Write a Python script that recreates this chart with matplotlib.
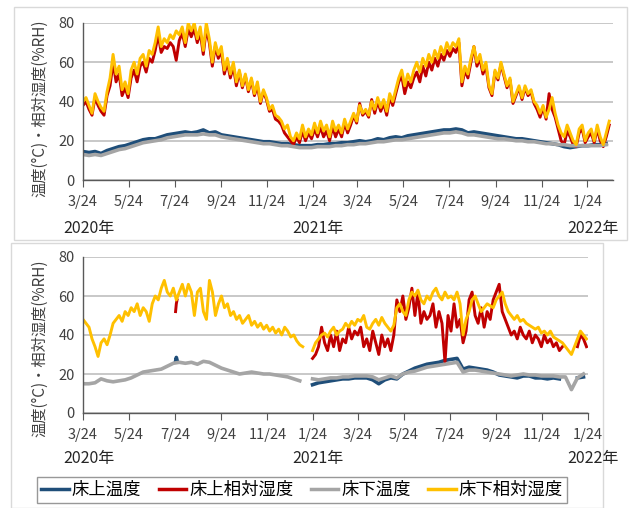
import numpy as np
import pandas as pd
import matplotlib
matplotlib.use('Agg')
import matplotlib.pyplot as plt
from matplotlib.patches import Rectangle
from matplotlib.lines import Line2D

plt.rcParams['font.family'] = ['Noto Sans CJK JP', 'DejaVu Sans']

nan = np.nan

# ---- data ----
start = pd.Timestamp('2020-03-24')

# top panel, relative humidity every 4 days from 2020-03-24
top_rh_under = [
    40, 42, 38, 34, 44, 40, 37, 35, 45, 52,
    64, 54, 58, 46, 50, 44, 56, 60, 54, 62,
    64, 58, 66, 64, 70, 78, 68, 72, 70, 74,
    72, 76, 74, 78, 70, 80, 76, 80, 72, 78,
    66, 80, 72, 60, 70, 64, 68, 56, 62, 54,
    60, 50, 56, 48, 54, 46, 52, 44, 50, 40,
    46, 42, 36, 38, 33, 32, 30, 26, 28, 22,
    20, 24, 21, 28, 22, 26, 23, 29, 24, 30,
    25, 28, 22, 30, 25, 28, 24, 31, 26, 30,
    34, 30, 38, 34, 36, 33, 40, 36, 42, 37,
    41, 35, 44, 40, 46, 52, 56, 48, 54, 50,
    56, 60, 55, 62, 58, 64, 60, 66, 62, 68,
    64, 70, 66, 70, 68, 72, 50, 58, 54, 62,
    68, 60, 64, 56, 60, 48, 44, 56, 52, 60,
    54, 48, 52, 40, 44, 48, 42, 48, 44, 46,
    40, 38, 34, 38, 32, 36, 42, 34, 28, 24,
    22, 28, 24, 20, 18, 26, 28, 20, 24, 26,
    20, 28, 22, 18, 24, 30,
]
top_rh_upper = [
    38, 40, 36, 33, 42, 38, 35, 33, 43, 48,
    60, 50, 54, 43, 47, 42, 52, 56, 50, 58,
    60, 55, 62, 60, 66, 74, 65, 68, 67, 70,
    68, 61, 71, 75, 68, 77, 73, 77, 70, 75,
    64, 77, 70, 58, 68, 62, 66, 54, 60, 52,
    58, 48, 55, 47, 53, 45, 51, 43, 48, 39,
    45, 41, 35, 36, 31, 30, 28, 24, 22, 20,
    18, 22, 19, 25, 20, 24, 21, 26, 22, 27,
    22, 25, 20, 27, 22, 26, 22, 29, 24, 28,
    33, 29, 39, 33, 35, 32, 41, 34, 40, 35,
    39, 33, 42, 38, 44, 50, 53, 44, 50, 47,
    52, 55, 50, 58, 53, 60, 56, 62, 58, 64,
    61, 66, 63, 67, 65, 70, 48, 56, 52, 60,
    68, 58, 62, 54, 58, 47, 43, 55, 51, 59,
    53, 47, 51, 39, 43, 47, 41, 47, 43, 45,
    39, 36, 32, 37, 31, 44, 36, 32, 26, 20,
    18, 25, 22, 18, 17, 24, 26, 19, 22, 24,
    19, 26, 20, 17, 22, 28,
]
# top panel, temperature every 8 days
top_t_upper = [
    14.5, 14, 14.5, 13.5, 15, 16, 17, 17.5, 18.5, 19.5,
    20.5, 21, 21, 22, 23, 23.5, 24, 24.5, 24, 24.5,
    25.5, 24, 24.5, 23, 22.5, 22, 21.5, 21, 20.5, 20,
    19.5, 19.5, 19, 18.5, 18.5, 18, 17.5, 17.5, 17.5, 18,
    18, 18.5, 18.5, 19, 19, 19.5, 20, 19.5, 20, 21,
    20.5, 21.5, 22, 21.5, 22.5, 23, 23.5, 24, 24.5, 25,
    25.5, 25.5, 26, 25.5, 24, 24.5, 24, 23.5, 23, 22.5,
    22, 21.5, 21, 21, 20.5, 20, 19.5, 19, 18.5, 18,
    17, 16.5, 17, 17.5, 17.5, 18, 18, 18.5,
]
top_t_under = [
    13, 12.5, 13, 12.5, 13.5, 14.5, 15.5, 16, 17, 18,
    19, 19.5, 20, 20.5, 21.5, 22, 22.5, 23, 23, 23,
    23.5, 23, 23, 22, 21.5, 21, 20.5, 20, 19.5, 19,
    18.5, 18.5, 18, 17.5, 17.5, 17, 16.5, 16.5, 16.5, 17,
    17, 17, 17.5, 17.5, 18, 18, 18.5, 18.5, 19, 19.5,
    19.5, 20, 20.5, 20.5, 21, 21.5, 22, 22.5, 23, 23.5,
    24, 24, 24.5, 24, 23, 23, 22.5, 22, 21.5, 21,
    21, 20.5, 20, 20, 19.5, 19.5, 19, 18.5, 18.5, 18,
    18, 17.5, 17.5, 17.5, 17.5, 17.5, 17.5, 18,
]

# bottom panel, first period (2020-03-24 ~ 2021-01), RH every 4 days / temp every 8 days
bot1_rh_under = [
    48, 46, 44, 38, 34, 29, 36, 38, 35, 40,
    46, 48, 50, 47, 52, 50, 54, 52, 56, 50,
    54, 52, 47, 56, 60, 58, 64, 68, 62, 60,
    64, 58, 62, 66, 60, 66, 62, 50, 62, 64,
    52, 48, 68, 62, 50, 56, 60, 54, 56, 50,
    52, 48, 50, 46, 48, 50, 45, 47, 44, 46,
    43, 45, 42, 44, 41, 43, 40, 44, 42, 39,
    40, 37, 35, 34,
]
bot1_t_under = [
    15, 15, 15.5, 17.5, 16.5, 16, 16.5, 17, 18, 19.5,
    21, 21.5, 22, 22.5, 24, 25.5, 26, 25.5, 26, 25,
    26.5, 26, 24.5, 23, 22, 21, 20, 20.5, 21, 20.5,
    20, 20, 19.5, 19, 18.5, 17.5, 16.5,
]
bot1_rh_upper = [52, 56, 58]
bot1_t_upper = [26.5, 28.5, 27]

# bottom panel, second period (2021-01-23 ~ 2022-01-24)
bot2_rh_under = [
    32, 36, 38, 40, 41, 39, 42, 44, 40, 42,
    43, 46, 44, 47, 45, 48, 47, 50, 44, 43,
    46, 48, 45, 49, 46, 44, 42, 45, 54, 56,
    52, 50, 58, 62, 60, 63, 58, 56, 60, 58,
    62, 64, 60, 58, 62, 59, 60, 58, 62, 56,
    40, 48, 52, 58, 60, 56, 52, 54, 56, 55,
    54, 58, 60, 62, 56, 52, 50, 48, 50, 47,
    48, 46, 45, 44, 43, 44, 41, 42, 40, 42,
    39, 38, 37, 36, 34, 32, 30, 34, 38, 42,
    40, 38,
]
bot2_rh_upper = [
    28, 30, 34, 44, 36, 32, 40, 34, 42, 32,
    38, 36, 44, 38, 42, 40, 44, 34, 38, 32,
    42, 36, 30, 40, 34, 38, 32, 40, 58, 52,
    60, 48, 54, 64, 50, 62, 46, 52, 48, 50,
    56, 44, 52, 46, 26, 50, 42, 56, 44, 48,
    36, 42, 58, 62, 50, 46, 54, 44, 52, 48,
    58, 62, 66, 52, 48, 44, 40, 42, 38, 44,
    40, 38, 42, 36, 40, 38, 34, 40, 36, 38,
    34, 36, 32, 34, nan, nan, nan, nan, 34, 40,
    38, 34,
]
bot2_t_under = [
    17.5, 17, 17.5, 18, 18, 18.5, 18.5, 19, 19, 19,
    18.5, 17, 18, 19, 18, 20, 21, 21.5, 22.5, 23.5,
    24, 24.5, 25, 25.5, 26, 21, 22, 22, 21.5, 21,
    20.5, 20, 19.5, 19, 19.5, 20, 19.5, 19.5, 19, 19,
    19, 18.5, 18.5, 12, 18, 20,
]
bot2_t_upper = [
    14.5, 15.5, 16, 16.5, 17, 17.5, 17.5, 18, 18, 18,
    17, 15, 17, 18, 17.5, 20, 21.5, 23, 24, 25,
    25.5, 26, 27, 27.5, 28, 22.5, 23.5, 23, 22.5, 22,
    21, 19.5, 19, 18.5, 18, 19, 19, 18, 18, 17.5,
    18, 17.5, nan, nan, 18, 18.5,
]

tick_dates = pd.to_datetime(['2020-03-24', '2020-05-24', '2020-07-24', '2020-09-24',
                             '2020-11-24', '2021-01-24', '2021-03-24', '2021-05-24',
                             '2021-07-24', '2021-09-24', '2021-11-24', '2022-01-24'])
tick_labels = ['3/24', '5/24', '7/24', '9/24', '11/24', '1/24',
               '3/24', '5/24', '7/24', '9/24', '11/24', '1/24']
year_labels = ['2020年', '2021年', '2022年']
series_names = ['床上温度', '床上相対湿度', '床下温度', '床下相対湿度']
colors = ['#1f4e79', '#c00000', '#a5a5a5', '#ffc000']
ylabel = '温度(°C)・相対湿度(%RH)'

# ---- figure ----
W, H = 637, 508
fig = plt.figure(figsize=(W / 100, H / 100), dpi=100)

LW_T = 2.6
LW_RH = 2.1


def px_axes(left, top, right, bottom):
    return fig.add_axes([left / W, 1 - bottom / H, (right - left) / W, (bottom - top) / H])


def style_axes(ax, xmax):
    ax.set_xlim(start, pd.Timestamp(xmax))
    ax.set_ylim(0, 80)
    ax.set_yticks([0, 20, 40, 60, 80])
    ax.set_xticks(tick_dates)
    ax.set_xticklabels(tick_labels)
    ax.grid(axis='y', color='#bfbfbf', linewidth=1.2)
    ax.set_axisbelow(True)
    for s in ['top', 'right']:
        ax.spines[s].set_visible(False)
    for s in ['left', 'bottom']:
        ax.spines[s].set_color('#595959')
        ax.spines[s].set_linewidth(1.0)
    ax.tick_params(axis='x', direction='out', length=5, color='#595959',
                   labelsize=10.5, labelcolor='#404040', pad=6)
    ax.tick_params(axis='y', length=0, labelsize=10.5, labelcolor='#404040', pad=6)


def d(first, arr, step):
    return pd.date_range(pd.Timestamp(first), periods=len(arr), freq=f'{step}D')


# panel frames
fig.add_artist(Rectangle((14 / W, 1 - 240 / H), 613 / W, 233 / H, transform=fig.transFigure,
                         fill=False, edgecolor='#d9d9d9', linewidth=1))
fig.add_artist(Rectangle((11 / W, 1 - 508 / H), 592 / W, 265 / H, transform=fig.transFigure,
                         fill=False, edgecolor='#d9d9d9', linewidth=1))

# top panel
ax1 = px_axes(83, 23, 613, 180)
ax1.plot(d(start, top_t_upper, 8), top_t_upper, color=colors[0], lw=LW_T)
ax1.plot(d(start, top_rh_upper, 4), top_rh_upper, color=colors[1], lw=LW_RH)
ax1.plot(d(start, top_t_under, 8), top_t_under, color=colors[2], lw=LW_T)
ax1.plot(d(start, top_rh_under, 4), top_rh_under, color=colors[3], lw=LW_RH)
style_axes(ax1, '2022-02-27')

# bottom panel
ax2 = px_axes(83, 257, 588, 413)
seg2 = '2021-01-23'
ax2.plot(d('2020-07-25', bot1_t_upper, 1), bot1_t_upper, color=colors[0], lw=LW_T)
ax2.plot(d(seg2, bot2_t_upper, 8), bot2_t_upper, color=colors[0], lw=LW_T)
ax2.plot(d('2020-07-25', bot1_rh_upper, 1), bot1_rh_upper, color=colors[1], lw=LW_RH)
ax2.plot(d(seg2, bot2_rh_upper, 4), bot2_rh_upper, color=colors[1], lw=LW_RH)
ax2.plot(d(start, bot1_t_under, 8), bot1_t_under, color=colors[2], lw=LW_T)
ax2.plot(d(seg2, bot2_t_under, 8), bot2_t_under, color=colors[2], lw=LW_T)
ax2.plot(d(start, bot1_rh_under, 4), bot1_rh_under, color=colors[3], lw=LW_RH)
ax2.plot(d(seg2, bot2_rh_under, 4), bot2_rh_under, color=colors[3], lw=LW_RH)
style_axes(ax2, '2022-01-24')

# y labels and year labels
for yc in (108, 348):
    fig.text(40 / W, 1 - yc / H, ylabel, rotation=90, ha='center', va='center',
             fontsize=11, color='#404040')
for yy in (228, 458):
    for xx, lab in zip((89, 318, 593), year_labels):
        fig.text(xx / W, 1 - yy / H, lab, ha='center', va='center',
                 fontsize=11.5, color='#262626')

# legend
handles = [Line2D([], [], color=c, lw=2.5) for c in colors]
fig.legend(handles, series_names, loc='center', bbox_to_anchor=(302 / W, 1 - 490 / H),
           ncol=4, frameon=True, fancybox=False, edgecolor='#7f7f7f', fontsize=12.5,
           handlelength=1.6, handletextpad=0.15, columnspacing=1.0, borderpad=0.25)

fig.savefig('out.png', dpi=100)
